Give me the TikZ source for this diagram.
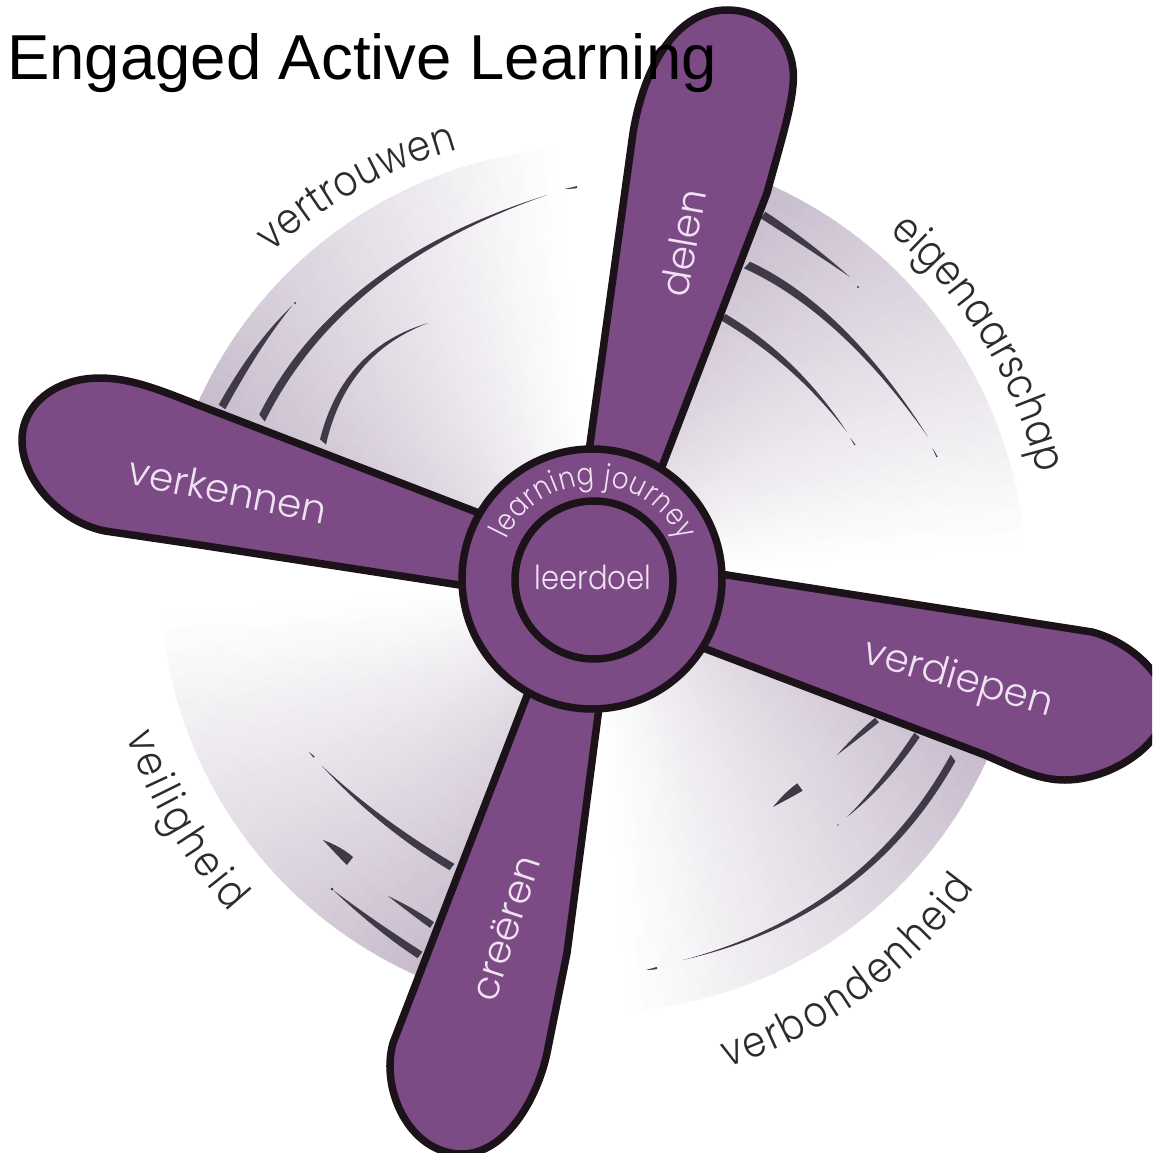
\documentclass[tikz,border=0pt]{standalone}
\usepackage{fontspec}
\usetikzlibrary{calc,decorations.text}
\setmainfont{Liberation Sans}
\newfontfamily\geo{Poppins}[UprightFont=* Light]
\newfontfamily\geonarrow{Poppins}[UprightFont=* Light,FakeStretch=0.86]
\definecolor{bladefill}{HTML}{7C4A85}
\definecolor{outline}{HTML}{1C1219}
\definecolor{sect}{HTML}{C3B6C8}
\definecolor{markink}{HTML}{403A48}
\definecolor{paletext}{HTML}{EFE3F2}
\definecolor{darktext}{HTML}{2E2B30}
\tikzset{
  blade/.style={draw=outline,fill=bladefill,line width=7.5pt,line join=round},
  ringshape/.style={circle,draw=outline,fill=bladefill,line width=7.5pt,inner sep=0pt},
  bladelabel/.style={text=paletext,font=\geo\fontsize{39}{39}\selectfont,inner sep=0pt},
}
\newcommand{\tapered}[4]{%
  \coordinate (tA) at #1; \coordinate (tM) at #2; \coordinate (tT) at #3;
  \coordinate (tQ) at ($2*(tM)-0.5*(tA)-0.5*(tT)$);
  \coordinate (tCa) at ($(tA)!0.6667!(tQ)$);
  \coordinate (tCb) at ($(tT)!0.6667!(tQ)$);
  \fill[markink] ($(tA)!#4pt!90:(tT)$) .. controls ($(tCa)!0.95*#4pt!90:(tT)$) and ($(tCb)!0.55*#4pt!90:(tT)$) .. (tT)
     .. controls ($(tCb)!0.55*#4pt!-90:(tT)$) and ($(tCa)!0.95*#4pt!-90:(tT)$) .. ($(tA)!#4pt!-90:(tT)$) -- cycle;}
\newcommand{\arclabel}[6]{% centre, start, end, radius, size, text
  \begin{scope}[shift={#1}]
  \path[decorate,decoration={text along path,text align={fit to path},
     text={|\geonarrow\fontsize{#5}{#5}\selectfont\color{darktext}|#6}}]
     (#2:#4pt) arc (#2:#3:#4pt);
  \end{scope}}
\begin{document}
\begin{tikzpicture}[x=1pt,y=-1pt]
\useasboundingbox (0,0) rectangle (1152,1153);
\clip (0,0) rectangle (1152,1153);
% shaded quadrants
\begin{scope}[shift={(593,580)}]
\foreach \q in {160,70,-20,250}{
  \foreach \i in {0,...,39}{
    \foreach \j in {0,...,15}{
      \pgfmathsetmacro\aa{\q-\i*1.625}
      \pgfmathsetmacro\ab{\q-(\i+1)*1.625-0.3}
      \pgfmathsetmacro\ra{130+\j*18.94}
      \pgfmathsetmacro\rb{\ra+(\j<15?19.5:18.94)}
      \pgfmathsetmacro\pc{100*(1-(\i+0.5)/40)*(0.58+0.42*(\j+0.5)/16)}
      \fill[sect!\pc!white] (\aa:\ra pt) arc (\aa:\ab:\ra pt) -- (\ab:\rb pt) arc (\ab:\aa:\rb pt) -- cycle;
    }
  }
}
\end{scope}
% brush marks
\tapered{(222,407)}{(257,350)}{(292,306)}{4}
\fill[markink] (295,303) circle (1.2);
\tapered{(262,418)}{(372,285)}{(547,195)}{4.5}
\tapered{(577,187)}{(572,188)}{(564,189)}{1}
\tapered{(323,442)}{(360,367)}{(428,323)}{4}
\tapered{(763,215)}{(807,245)}{(850,277)}{4}
\fill[markink] (858,287) circle (1.2);
\tapered{(747,265)}{(840,330)}{(928,437)}{4.5}
\tapered{(937,457)}{(935,453)}{(932,448)}{0.6}
\tapered{(723,317)}{(790,367)}{(847,432)}{4}
\tapered{(855,445)}{(853,442)}{(850,438)}{0.6}
\tapered{(877,720)}{(857,737)}{(837,755)}{3}
\tapered{(917,735)}{(883,780)}{(847,817)}{3.5}
\fill[markink!60] (838,825) circle (1.2);
\tapered{(953,758)}{(842,887)}{(683,960)}{4}
\tapered{(657,968)}{(652,969)}{(646,970)}{1}
\tapered{(800,787)}{(787,796)}{(773,807)}{4.5}
\tapered{(452,867)}{(383,820)}{(322,766)}{4}
\tapered{(314,757)}{(312,755)}{(309,752)}{0.8}
\tapered{(350,861)}{(337,850)}{(323,840)}{5}
\tapered{(432,925)}{(410,910)}{(388,896)}{3.5}
\tapered{(420,955)}{(377,925)}{(333,890)}{4}
\fill[markink] (332,889) circle (1.5);
% blades
\draw[blade] (585,480) -- (633,133) .. controls (645,60) and (680,10) .. (727,10) .. controls (770,10) and (797,45) .. (793,85) .. controls (791,110) and (780,145) .. (767,193) -- (655,485) -- cycle;
\draw[blade] (505,523) -- (193,403) .. controls (160,390) and (130,378) .. (100,378) .. controls (55,378) and (22,405) .. (22,440) .. controls (22,480) and (60,522) .. (105,531) -- (200,545) -- (505,592) -- cycle;
\draw[blade] (695,570) -- (1092,632) .. controls (1130,642) and (1166,675) .. (1166,705) .. controls (1166,745) and (1110,780) .. (1065,780) .. controls (1040,780) and (1019,770) .. (985,755) -- (690,643) -- cycle;
\draw[blade] (535,675) -- (393,1043) .. controls (380,1090) and (410,1154) .. (462,1154) .. controls (505,1154) and (537,1100) .. (547,1053) -- (567,953) -- (602,685) -- cycle;
% hub
\node[ringshape,minimum size=260pt] (hub) at (592,579) {};
\node[ringshape,minimum size=158pt] (core) at (594,580) {};
% blade labels
\node[bladelabel,rotate=80] (delen) at (683,243) {delen};
\node[bladelabel,rotate=-11.5] (verkennen) at (228,490) {verkennen};
\node[bladelabel,rotate=-16] (verdiepen) at (958,680) {verdiepen};
\node[bladelabel,rotate=72] (creeren) at (505,928) {creëren};
\node[bladelabel,font=\geo\fontsize{33}{33}\selectfont,xscale=0.88] (leerdoel) at (593,577) {leerdoel};
% curved labels
\arclabel{(585,600)}{132}{105.8}{468}{43}{vertrouwen}
\arclabel{(593,580)}{49.5}{13.5}{457}{43}{eigenaarschap}
\arclabel{(574,597)}{-72}{-36}{495}{43}{verbondenheid}
\arclabel{(593,580)}{198.5}{222.5}{492}{43}{veiligheid}
\begin{scope}[shift={(593,580)}]
\path[decorate,decoration={text along path,text align={fit to path},
     text={|\geonarrow\fontsize{30}{30}\selectfont\color{paletext}|learning journey}}]
     (155:95pt) arc (155:24:95pt);
\end{scope}
\node[anchor=base west,inner sep=0pt,text=black,font=\fontsize{63.5}{70}\selectfont] (title) at (7,80) {Engaged Active Learning};
\end{tikzpicture}
\end{document}
